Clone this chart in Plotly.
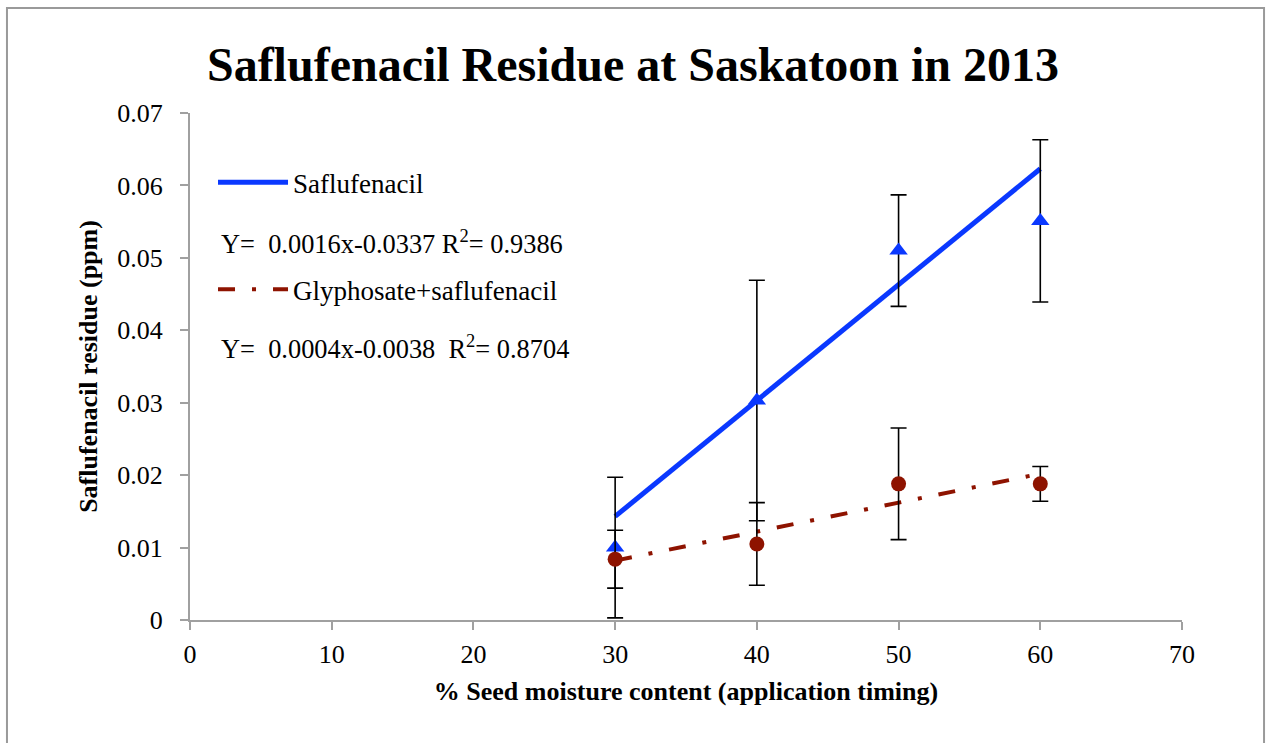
import numpy as np
import plotly.graph_objects as go

# ---- data ----
moisture = [30, 40, 50, 60]
saflufenacil = [0.0100, 0.0303, 0.0510, 0.0551]
saflufenacil_err = [0.0097, 0.0166, 0.0077, 0.0112]
glyph_saf = [0.0084, 0.0105, 0.0188, 0.0188]
glyph_saf_err = [0.0040, 0.0057, 0.0077, 0.0024]

# trendline coefficients as printed on the chart: [slope, intercept]
trend_saf = [0.0016, -0.0337]
trend_gly = [0.0004, -0.0038]

eq_saf = "Y=  0.0016x-0.0337 R<sup>2</sup>= 0.9386"
eq_gly = "Y=  0.0004x-0.0038  R<sup>2</sup>= 0.8704"

title = "Saflufenacil Residue at Saskatoon in 2013"
x_title = "% Seed moisture content (application timing)"
y_title = "Saflufenacil residue (ppm)"

BLUE = "#0A38FF"
RED = "#8E1300"
SERIF = "Liberation Serif, Times New Roman, serif"

x_line = [min(moisture), max(moisture)]

fig = go.Figure()

fig.add_trace(go.Scatter(
    x=x_line, y=np.polyval(trend_saf, x_line), mode="lines",
    line=dict(color=BLUE, width=5), name="Saflufenacil",
    legendgroup="a", hoverinfo="skip"))
fig.add_trace(go.Scatter(
    x=x_line, y=np.polyval(trend_gly, x_line), mode="lines",
    line=dict(color=RED, width=4, dash="17px,17px,4px,17px"),
    name="Glyphosate+saflufenacil", legendgroup="b", hoverinfo="skip"))

fig.add_trace(go.Scatter(
    x=moisture, y=saflufenacil, mode="markers", showlegend=False,
    marker=dict(symbol="triangle-up", size=16, color=BLUE),
    error_y=dict(type="data", array=saflufenacil_err, color="black",
                 thickness=1.6, width=8)))
fig.add_trace(go.Scatter(
    x=moisture, y=glyph_saf, mode="markers", showlegend=False,
    marker=dict(symbol="circle", size=15, color=RED),
    error_y=dict(type="data", array=glyph_saf_err, color="black",
                 thickness=1.6, width=8)))

fig.add_annotation(text=eq_saf, xref="paper", yref="paper",
                   x=0.029, y=0.7436, xanchor="left", yanchor="middle",
                   showarrow=False, font=dict(family=SERIF, size=26.4, color="black"))
fig.add_annotation(text=eq_gly, xref="paper", yref="paper",
                   x=0.029, y=0.5365, xanchor="left", yanchor="middle",
                   showarrow=False, font=dict(family=SERIF, size=26.4, color="black"))

# outer chart frame
fig.add_shape(type="rect", xref="paper", yref="paper",
              x0=-0.1845, x1=1.0827, y0=-0.3, y1=1.207,
              line=dict(color="#9a9a9a", width=2), layer="below")

fig.update_layout(
    width=1266, height=743,
    margin=dict(l=190, r=84, t=113, b=123),
    paper_bgcolor="white", plot_bgcolor="white",
    title=dict(text="<b>" + title + "</b>", x=0.5, xanchor="center",
               y=0.914, yanchor="middle",
               font=dict(family=SERIF, size=48, color="black")),
    legend=dict(x=0.0232, y=0.911, xanchor="left", yanchor="top",
                font=dict(family=SERIF, size=27, color="black"),
                traceorder="grouped", tracegroupgap=69,
                bgcolor="rgba(0,0,0,0)", itemwidth=70),
    showlegend=True,
)
fig.update_xaxes(range=[0, 70], dtick=10, showgrid=False, zeroline=False,
                 showline=True, linecolor="#a0a0a0", linewidth=2,
                 ticks="outside", ticklen=8, tickcolor="#a0a0a0", tickwidth=1.5,
                 tickfont=dict(family=SERIF, size=26, color="black"),
                 ticklabelstandoff=2,
                 title=dict(text="<b>" + x_title + "</b>", standoff=14,
                            font=dict(family=SERIF, size=26, color="black")))
fig.update_yaxes(range=[0, 0.07], dtick=0.01, showgrid=False, zeroline=False,
                 showline=True, linecolor="#a0a0a0", linewidth=2,
                 ticks="outside", ticklen=8, tickcolor="#a0a0a0", tickwidth=1.5,
                 tickformat="~r", ticklabelstandoff=12,
                 tickfont=dict(family=SERIF, size=26, color="black"),
                 title=dict(text="<b>" + y_title + "</b>", standoff=12,
                            font=dict(family=SERIF, size=26, color="black")))

fig.write_html("out.html",
               config={"displayModeBar": False},
               post_script="document.body.style.margin='0px';"
                           "document.body.style.overflow='hidden';")
